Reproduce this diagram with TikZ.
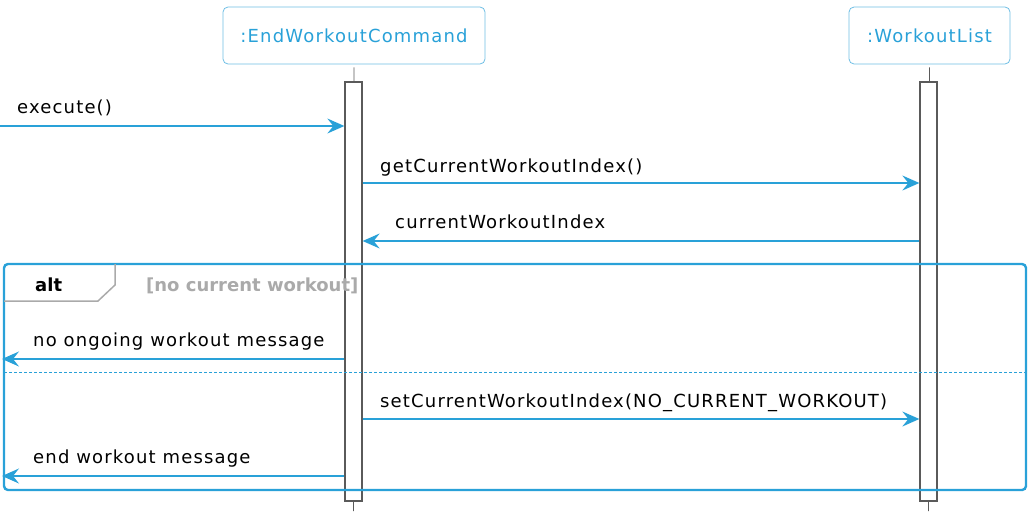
\documentclass[tikz,border=0pt]{standalone}
\usepackage{fontspec}
\setmainfont{DejaVu Sans}
\newfontfamily\umlfont{DejaVu Sans}[LetterSpace=6.5]
\usetikzlibrary{arrows.meta}
\definecolor{umlblue}{RGB}{41,161,216}
\definecolor{boxblue}{RGB}{110,190,228}
\definecolor{guardgray}{RGB}{170,170,170}
\definecolor{lifegray}{RGB}{90,90,90}
\begin{document}
\begin{tikzpicture}[x=1pt,y=-1pt,
  participant/.style={draw=boxblue,line width=0.8pt,rounded corners=5pt,text=umlblue,
    font=\umlfont\fontsize{18}{20}\selectfont,minimum height=57pt,inner sep=0pt},
  activation/.style={draw=lifegray,fill=white,line width=1.3pt,minimum width=17pt,inner sep=0pt},
  lifeline/.style={draw=lifegray,line width=0.6pt},
  msg/.style={draw=umlblue,line width=1.3pt,-{Stealth[length=17pt,width=15pt,inset=6pt]}},
  msglabel/.style={anchor=base west,inner sep=0pt,font=\umlfont\fontsize{18}{20}\selectfont},
  frame/.style={draw=umlblue,line width=2.4pt,rounded corners=4pt},
  tabline/.style={draw=guardgray,line width=1.5pt},
  divider/.style={draw=umlblue,line width=1pt,dash pattern=on 3pt off 2pt}]
\useasboundingbox (0,0) rectangle (1035,525);

% participants
\node[participant,minimum width=262pt] (endCmd) at (354,35.5) {:EndWorkoutCommand};
\node[participant,minimum width=161pt] (wList) at (929.5,35.5) {:WorkoutList};

% lifelines
\coordinate (endCmdEnd) at (353.5,511);
\coordinate (wListEnd) at (928.5,511);
\draw[lifeline,shorten <=3pt] (endCmd.south) -- (endCmdEnd);
\draw[lifeline,shorten <=3pt] (wList.south) -- (wListEnd);

% activations
\node[activation,minimum height=419pt] (endCmdAct) at (353.5,291.5) {};
\node[activation,minimum height=419pt] (wListAct) at (928.5,291.5) {};

% alt frame
\draw[frame] (4,264) rectangle (1026,490);
\draw[tabline] (4,301) -- (98,301) -- (115,285) -- (115,264);
\node[msglabel,font=\fontsize{18}{20}\selectfont\bfseries] (altTag) at (35,291) {alt};
\node[msglabel,font=\fontsize{18}{20}\selectfont\bfseries,text=guardgray] (altGuard) at (146,291) {[no current workout]};
\coordinate (divL) at (4,372.5);
\coordinate (divR) at (1026,372.5);
\draw[divider] (divL) -- (divR);

% messages
\coordinate (execIn) at (0,126);
\draw[msg] (execIn) -- (execIn -| endCmdAct.west);
\node[msglabel] (execLbl) at (17,113) {execute()};

\coordinate (getIdx) at (0,183);
\draw[msg] (getIdx -| endCmdAct.east) -- (getIdx -| wListAct.west);
\node[msglabel] (getIdxLbl) at (380,172) {getCurrentWorkoutIndex()};

\coordinate (retIdx) at (0,241);
\draw[msg] (retIdx -| wListAct.west) -- (retIdx -| endCmdAct.east);
\node[msglabel] (retIdxLbl) at (395,228) {currentWorkoutIndex};

\coordinate (noneOut) at (2,359);
\draw[msg] (noneOut -| endCmdAct.west) -- (noneOut);
\node[msglabel] (noneLbl) at (33,346) {no ongoing workout message};

\coordinate (setIdx) at (0,419);
\draw[msg] (setIdx -| endCmdAct.east) -- (setIdx -| wListAct.west);
\node[msglabel] (setIdxLbl) at (380,407) {setCurrentWorkoutIndex(NO\_CURRENT\_WORKOUT)};

\coordinate (endOut) at (2,476);
\draw[msg] (endOut -| endCmdAct.west) -- (endOut);
\node[msglabel] (endLbl) at (33,463) {end workout message};
\end{tikzpicture}
\end{document}
